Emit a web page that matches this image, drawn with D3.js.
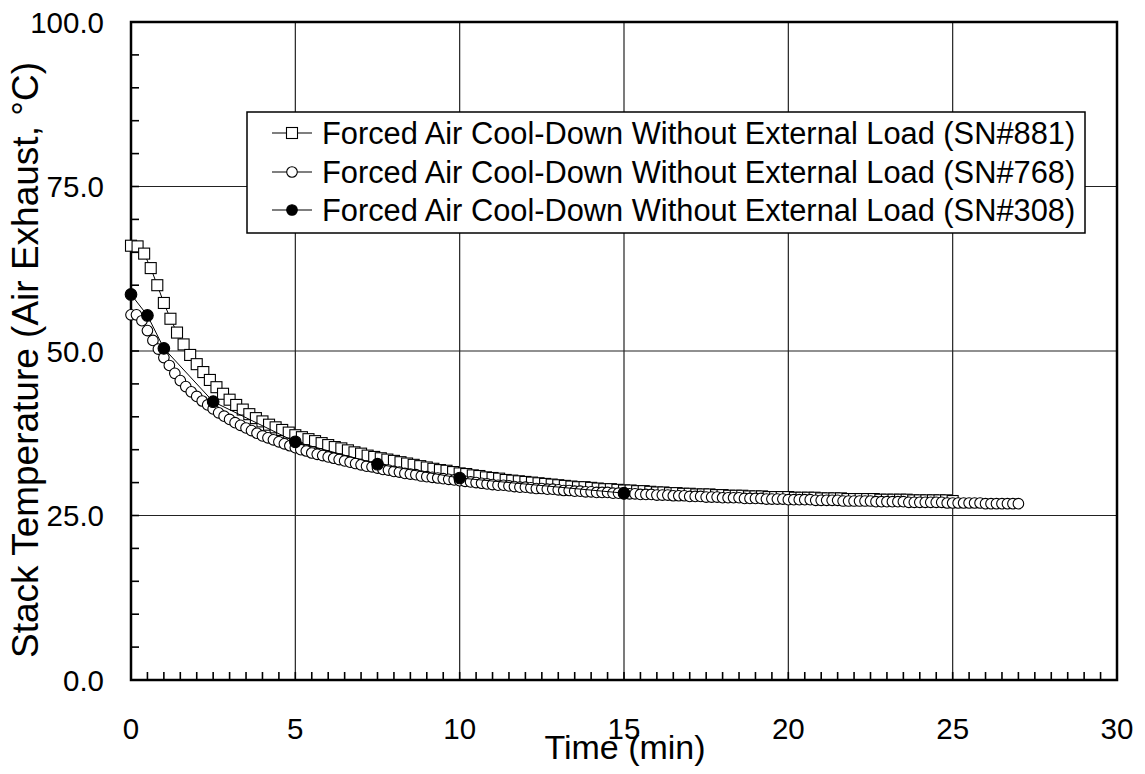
<!DOCTYPE html>
<html><head><meta charset="utf-8">
<script src="https://cdn.jsdelivr.net/npm/d3@7"></script>
<style>body{margin:0;background:#fff}svg{display:block}text{font-family:"Liberation Sans",Arial,sans-serif;fill:#000}</style>
</head><body><svg id="c" width="1145" height="774"></svg>
<script>
// ---- data ----
const xTicks = [0, 5, 10, 15, 20, 25, 30];
const yTicks = [0, 25, 50, 75, 100];
const seriesNames = [
  "Forced Air Cool-Down Without External Load (SN#881)",
  "Forced Air Cool-Down Without External Load (SN#768)",
  "Forced Air Cool-Down Without External Load (SN#308)"
];
// SN#881 sampled every 0.2 min
const sn881Step = 0.2;
const sn881 = [66.0,65.9,64.8,62.6,60.0,57.3,54.9,52.8,51.0,49.4,48.0,46.8,45.6,44.5,43.5,42.6,41.8,41.1,40.4,39.8,
  39.3,38.8,38.4,38.0,37.6,37.2,36.9,36.6,36.3,36.0,35.7,35.4,35.2,34.9,34.6,34.4,34.1,33.9,33.7,33.5,
  33.3,33.1,32.9,32.7,32.5,32.3,32.1,31.9,31.8,31.6,31.4,31.3,31.1,31.0,30.8,30.7,30.6,30.4,30.3,30.2,
  30.1,30.0,29.9,29.8,29.7,29.6,29.5,29.4,29.3,29.3,29.2,29.1,29.0,29.0,28.9,28.8,28.8,28.7,28.7,28.6,
  28.5,28.5,28.4,28.4,28.3,28.3,28.2,28.2,28.2,28.1,28.1,28.0,28.0,28.0,27.9,27.9,27.9,27.8,27.8,27.8,
  27.8,27.7,27.7,27.7,27.7,27.6,27.6,27.6,27.6,27.5,27.5,27.5,27.5,27.5,27.4,27.4,27.4,27.4,27.4,27.3,
  27.3,27.3,27.3,27.3,27.3,27.2];
// SN#768 sampled every 10 s (1/6 min)
const sn768Step = 1 / 6;
const sn768 = [55.5,55.5,54.6,53.1,51.6,50.3,49.0,47.8,46.6,45.5,44.6,43.8,43.1,42.4,41.8,41.2,40.6,40.1,39.6,39.1,
  38.7,38.3,37.9,37.5,37.1,36.8,36.5,36.2,35.9,35.6,35.3,35.0,34.8,34.5,34.3,34.1,33.9,33.7,33.5,33.3,
  33.1,32.9,32.7,32.5,32.4,32.2,32.0,31.9,31.7,31.6,31.4,31.3,31.2,31.0,30.9,30.8,30.7,30.6,30.5,30.4,
  30.3,30.2,30.1,30.0,29.9,29.8,29.7,29.6,29.6,29.5,29.4,29.3,29.3,29.2,29.1,29.1,29.0,29.0,28.9,28.8,
  28.8,28.7,28.7,28.6,28.6,28.5,28.5,28.5,28.4,28.4,28.3,28.3,28.3,28.2,28.2,28.2,28.1,28.1,28.1,28.0,
  28.0,28.0,27.9,27.9,27.9,27.8,27.8,27.8,27.7,27.7,27.7,27.7,27.6,27.6,27.6,27.6,27.5,27.5,27.5,27.5,
  27.4,27.4,27.4,27.4,27.4,27.3,27.3,27.3,27.3,27.3,27.2,27.2,27.2,27.2,27.2,27.2,27.1,27.1,27.1,27.1,
  27.1,27.1,27.0,27.0,27.0,27.0,27.0,27.0,27.0,26.9,26.9,26.9,26.9,26.9,26.9,26.9,26.8,26.8,26.8,26.8,
  26.8,26.8,26.8];
// SN#308
const sn308Time = [0, 0.5, 1, 2.5, 5, 7.5, 10, 15];
const sn308 = [58.6, 55.4, 50.4, 42.3, 36.2, 32.8, 30.7, 28.4];

const d881 = sn881.map((v, i) => ({t: i * sn881Step, v}));
const d768 = sn768.map((v, i) => ({t: i * sn768Step, v}));
const d308 = sn308.map((v, i) => ({t: sn308Time[i], v}));

// ---- chart ----
const svg = d3.select("#c");
const L = 131, R = 1117, T = 22, B = 680;
const x = d3.scaleLinear().domain([0, 30]).range([L, R]);
const y = d3.scaleLinear().domain([0, 100]).range([B, T]);

// gridlines
svg.append("g").selectAll("line").data(xTicks.filter(d => d > 0 && d < 30)).join("line")
  .attr("x1", d => x(d)).attr("x2", d => x(d)).attr("y1", T).attr("y2", B)
  .attr("stroke", "#222").attr("stroke-width", 1.2);
svg.append("g").selectAll("line").data(yTicks.filter(d => d > 0 && d < 100)).join("line")
  .attr("y1", d => y(d)).attr("y2", d => y(d)).attr("x1", L).attr("x2", R)
  .attr("stroke", "#222").attr("stroke-width", 1.2);

// minor ticks (inside)
const xMinor = d3.range(0, 30.01, 0.5);
svg.append("g").selectAll("line").data(xMinor).join("line")
  .attr("x1", d => x(d)).attr("x2", d => x(d)).attr("y1", B).attr("y2", B - 8)
  .attr("stroke", "#000").attr("stroke-width", 1.6);
const yMinor = d3.range(0, 100.01, 5);
svg.append("g").selectAll("line").data(yMinor).join("line")
  .attr("y1", d => y(d)).attr("y2", d => y(d)).attr("x1", L).attr("x2", L + 8)
  .attr("stroke", "#000").attr("stroke-width", 1.6);

// frame
svg.append("rect").attr("x", L).attr("y", T).attr("width", R - L).attr("height", B - T)
  .attr("fill", "none").attr("stroke", "#000").attr("stroke-width", 2.5);

// tick labels
svg.append("g").selectAll("text").data(xTicks).join("text")
  .attr("x", d => x(d)).attr("y", 739).attr("text-anchor", "middle")
  .attr("font-size", 29.5).text(d => d);
svg.append("g").selectAll("text").data(yTicks).join("text")
  .attr("x", 104).attr("y", d => y(d) + 10.5).attr("text-anchor", "end")
  .attr("font-size", 29.5).text(d => d3.format(".1f")(d));

// axis titles
svg.append("text").attr("x", 625).attr("y", 759).attr("text-anchor", "middle")
  .attr("font-size", 34).text("Time (min)");
svg.append("text").attr("transform", "translate(38,360) rotate(-90)").attr("text-anchor", "middle")
  .attr("font-size", 37).text("Stack Temperature (Air Exhaust, °C)");

const line = d3.line().x(d => x(d.t)).y(d => y(d.v));

function sq(g, data, s) {
  g.selectAll("rect").data(data).join("rect")
    .attr("x", d => x(d.t) - s / 2).attr("y", d => y(d.v) - s / 2)
    .attr("width", s).attr("height", s)
    .attr("fill", "#fff").attr("stroke", "#000").attr("stroke-width", 1.1);
}
function circ(g, data, r, fill) {
  g.selectAll("circle").data(data).join("circle")
    .attr("cx", d => x(d.t)).attr("cy", d => y(d.v)).attr("r", r)
    .attr("fill", fill).attr("stroke", "#000").attr("stroke-width", 1.1);
}

// series 881
const g1 = svg.append("g");
g1.append("path").attr("d", line(d881)).attr("fill", "none").attr("stroke", "#000").attr("stroke-width", 1);
sq(g1, d881, 11);
// series 768
const g2 = svg.append("g");
g2.append("path").attr("d", line(d768)).attr("fill", "none").attr("stroke", "#000").attr("stroke-width", 1);
circ(g2, d768, 5.3, "#fff");
// series 308
const g3 = svg.append("g");
g3.append("path").attr("d", line(d308)).attr("fill", "none").attr("stroke", "#000").attr("stroke-width", 1);
circ(g3, d308, 5.8, "#000");

// legend
const lg = svg.append("g");
lg.append("rect").attr("x", 247).attr("y", 112).attr("width", 838).attr("height", 121)
  .attr("fill", "#fff").attr("stroke", "#000").attr("stroke-width", 1.5);
const rowY = [133, 172, 210];
seriesNames.forEach((name, i) => {
  const yy = rowY[i];
  lg.append("line").attr("x1", 272).attr("x2", 312).attr("y1", yy).attr("y2", yy)
    .attr("stroke", "#000").attr("stroke-width", 1.2);
  if (i === 0) {
    lg.append("rect").attr("x", 286.5).attr("y", yy - 5.5).attr("width", 11).attr("height", 11)
      .attr("fill", "#fff").attr("stroke", "#000").attr("stroke-width", 1.1);
  } else {
    lg.append("circle").attr("cx", 292).attr("cy", yy).attr("r", 5.3)
      .attr("fill", i === 1 ? "#fff" : "#000").attr("stroke", "#000").attr("stroke-width", 1.1);
  }
  lg.append("text").attr("x", 322).attr("y", yy + 11).attr("font-size", 30.8).text(name);
});
</script></body></html>
